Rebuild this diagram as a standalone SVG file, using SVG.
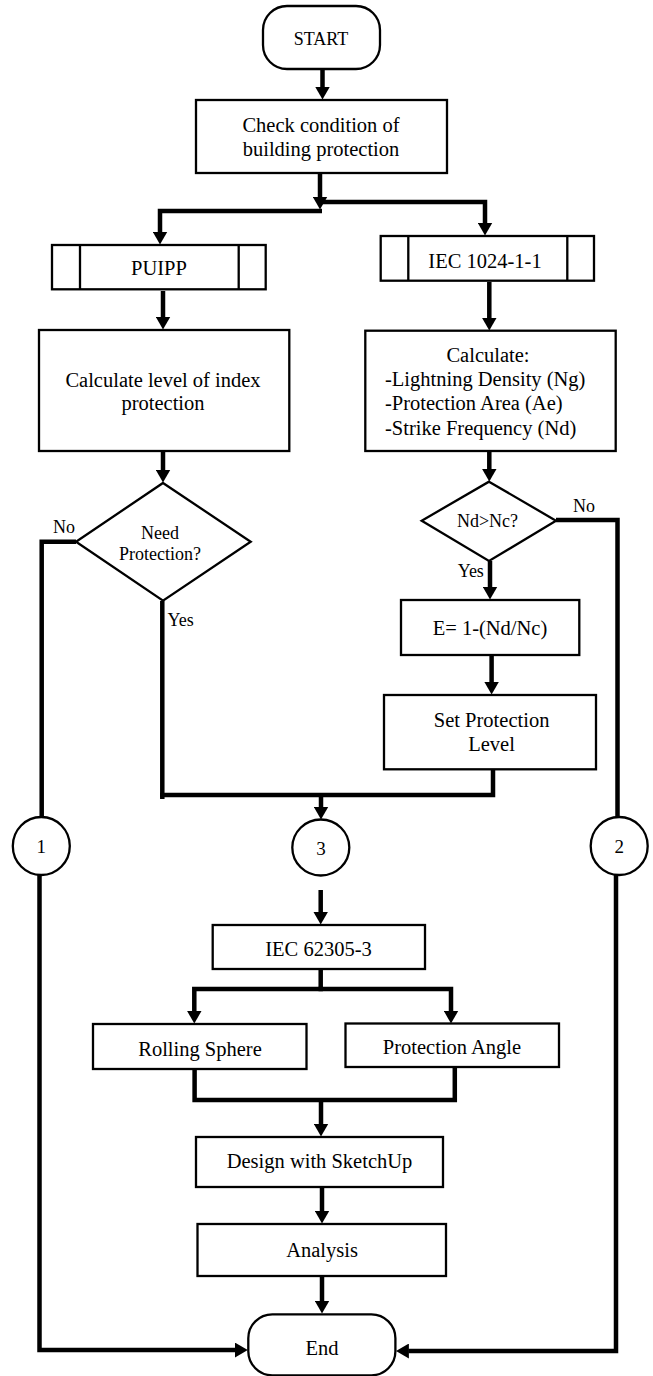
<svg xmlns="http://www.w3.org/2000/svg" width="653" height="1376" viewBox="0 0 653 1376">
<style>
.fc-box{fill:#fff;stroke:#000;stroke-width:2.3}
.fc-thin{fill:none;stroke:#000;stroke-width:2.3}
.fc-conn{fill:none;stroke:#000;stroke-width:4.5}
.fc-main{font-family:'Liberation Serif',serif;font-size:20.5px;text-anchor:middle}
.fc-left{font-family:'Liberation Serif',serif;font-size:20.5px;text-anchor:start}
.fc-lab{font-family:'Liberation Serif',serif;font-size:18px;text-anchor:middle}
.fc-labl{font-family:'Liberation Serif',serif;font-size:18px;text-anchor:start}
.fc-num{font-family:'Liberation Serif',serif;font-size:19px;text-anchor:middle}
</style>
<defs>
<marker id="ah" viewBox="0 -7.5 13 15" refX="0.5" refY="0" markerWidth="13" markerHeight="15" markerUnits="userSpaceOnUse" orient="auto">
<path d="M0,-7.5 L13,0 L0,7.5 Z" fill="#000"/>
</marker>
</defs>
<rect width="653" height="1376" fill="#fff"/>
<g id="connectors">
<path class="fc-conn" d="M322.5,69 V87" marker-end="url(#ah)"/>
<path class="fc-conn" d="M320,173 V197" marker-end="url(#ah)"/>
<path class="fc-conn" d="M322,211 H160 V232" marker-end="url(#ah)"/>
<path class="fc-conn" d="M318,202 H485 V223" marker-end="url(#ah)"/>
<path class="fc-conn" d="M163,291 V317" marker-end="url(#ah)"/>
<path class="fc-conn" d="M489.3,282 V318" marker-end="url(#ah)"/>
<path class="fc-conn" d="M163,451 V470" marker-end="url(#ah)"/>
<path class="fc-conn" d="M489.3,451 V469" marker-end="url(#ah)"/>
<path class="fc-conn" d="M162.3,601 V799"/>
<path class="fc-conn" d="M160,795 H493 V769"/>
<path class="fc-conn" d="M321,795 V807" marker-end="url(#ah)"/>
<path class="fc-conn" d="M76,541.7 H41.7 V817.3"/>
<path class="fc-conn" d="M39.5,875 V1350 H235.3" marker-end="url(#ah)"/>
<path class="fc-conn" d="M556,520 H617.5 V817"/>
<path class="fc-conn" d="M616,875 V1351 H408.4" marker-end="url(#ah)"/>
<path class="fc-conn" d="M490,561 V587" marker-end="url(#ah)"/>
<path class="fc-conn" d="M491.6,655 V682" marker-end="url(#ah)"/>
<path class="fc-conn" d="M320.7,890 V912" marker-end="url(#ah)"/>
<path class="fc-conn" d="M320.7,969 V989"/>
<path class="fc-conn" d="M322.9,989 H194.3 V1011" marker-end="url(#ah)"/>
<path class="fc-conn" d="M318.5,989 H451 V1011" marker-end="url(#ah)"/>
<path class="fc-conn" d="M194.6,1069 V1100 H454.8 V1067"/>
<path class="fc-conn" d="M321,1100 V1124" marker-end="url(#ah)"/>
<path class="fc-conn" d="M322,1187 V1211" marker-end="url(#ah)"/>
<path class="fc-conn" d="M322,1276 V1301" marker-end="url(#ah)"/>
</g>
<g id="start">
<rect class="fc-box" x="263" y="6" width="117" height="63" rx="24" ry="24"/>
<text class="fc-lab" style="font-family:'Liberation Serif',serif" x="321" y="45">START</text>
</g>
<g id="check">
<rect class="fc-box" x="196" y="100" width="251" height="73"/>
<text class="fc-main" style="font-family:'Liberation Serif',serif" x="321" y="131.7">Check condition of</text>
<text class="fc-main" style="font-family:'Liberation Serif',serif" x="321" y="155.7">building protection</text>
</g>
<g id="puipp">
<rect class="fc-box" x="52" y="245" width="213.7" height="44.3"/>
<path class="fc-thin" d="M80,245 V289.3 M238.7,245 V289.3"/>
<text class="fc-main" style="font-family:'Liberation Serif',serif" x="159" y="275">PUIPP</text>
</g>
<g id="iec1024">
<rect class="fc-box" x="380.7" y="236" width="213.3" height="44.7"/>
<path class="fc-thin" d="M408.3,236 V280.7 M567.3,236 V280.7"/>
<text class="fc-main" style="font-family:'Liberation Serif',serif" x="485" y="267.7">IEC 1024-1-1</text>
</g>
<g id="calc-left">
<rect class="fc-box" x="39" y="330" width="250.3" height="121"/>
<text class="fc-main" style="font-family:'Liberation Serif',serif" x="163" y="386.7">Calculate level of index</text>
<text class="fc-main" style="font-family:'Liberation Serif',serif" x="163" y="410">protection</text>
</g>
<g id="calc-right">
<rect class="fc-box" x="365.3" y="330.7" width="250.4" height="120.3"/>
<text class="fc-main" style="font-family:'Liberation Serif',serif" x="488" y="361.7">Calculate:</text>
<text class="fc-left" style="font-family:'Liberation Serif',serif" x="385" y="386">-Lightning Density (Ng)</text>
<text class="fc-left" style="font-family:'Liberation Serif',serif" x="385" y="410">-Protection Area (Ae)</text>
<text class="fc-left" style="font-family:'Liberation Serif',serif" x="385" y="435">-Strike Frequency (Nd)</text>
</g>
<g id="need-protection">
<polygon class="fc-box" points="163,483 250.7,541.7 163,600.7 76,541.7"/>
<text class="fc-lab" style="font-family:'Liberation Serif',serif" x="160" y="539">Need</text>
<text class="fc-lab" style="font-family:'Liberation Serif',serif" x="160" y="560">Protection?</text>
<text class="fc-lab" style="font-family:'Liberation Serif',serif" x="64" y="532.7">No</text>
<text class="fc-labl" style="font-family:'Liberation Serif',serif" x="167.5" y="625.7">Yes</text>
</g>
<g id="nd-nc">
<polygon class="fc-box" points="489,481.7 556,520.7 489,561 421.7,520.7"/>
<text class="fc-lab" style="font-family:'Liberation Serif',serif" x="487.5" y="527.3">Nd&gt;Nc?</text>
<text class="fc-lab" style="font-family:'Liberation Serif',serif" x="584" y="511.7">No</text>
<text class="fc-labl" style="font-family:'Liberation Serif',serif" x="457.7" y="577.3">Yes</text>
</g>
<g id="e-box">
<rect class="fc-box" x="401" y="600" width="178.3" height="55"/>
<text class="fc-main" style="font-family:'Liberation Serif',serif" x="490" y="635">E= 1-(Nd/Nc)</text>
</g>
<g id="set-level">
<rect class="fc-box" x="384" y="695" width="212" height="74.3"/>
<text class="fc-main" style="font-family:'Liberation Serif',serif" x="491.6" y="726.7">Set Protection</text>
<text class="fc-main" style="font-family:'Liberation Serif',serif" x="491.6" y="751">Level</text>
</g>
<g id="conn-1">
<ellipse class="fc-box" cx="41.3" cy="846" rx="28.5" ry="29"/>
<text class="fc-num" style="font-family:'Liberation Serif',serif" x="41.3" y="852.7">1</text>
</g>
<g id="conn-3">
<ellipse class="fc-box" cx="320.8" cy="847.5" rx="28.5" ry="28"/>
<text class="fc-num" style="font-family:'Liberation Serif',serif" x="321" y="855">3</text>
</g>
<g id="conn-2">
<ellipse class="fc-box" cx="619.2" cy="846" rx="28.5" ry="29"/>
<text class="fc-num" style="font-family:'Liberation Serif',serif" x="619.2" y="852.7">2</text>
</g>
<g id="iec62305">
<rect class="fc-box" x="212.7" y="925" width="212.3" height="44"/>
<text class="fc-main" style="font-family:'Liberation Serif',serif" x="318.5" y="956">IEC 62305-3</text>
</g>
<g id="rolling">
<rect class="fc-box" x="93" y="1024" width="213.5" height="45"/>
<text class="fc-main" style="font-family:'Liberation Serif',serif" x="200" y="1055.7">Rolling Sphere</text>
</g>
<g id="angle">
<rect class="fc-box" x="345.5" y="1023.5" width="213.5" height="43.5"/>
<text class="fc-main" style="font-family:'Liberation Serif',serif" x="452" y="1054">Protection Angle</text>
</g>
<g id="design">
<rect class="fc-box" x="196" y="1137" width="247" height="50"/>
<text class="fc-main" style="font-family:'Liberation Serif',serif" x="319.5" y="1168.3">Design with SketchUp</text>
</g>
<g id="analysis">
<rect class="fc-box" x="197.5" y="1224" width="248.5" height="52"/>
<text class="fc-main" style="font-family:'Liberation Serif',serif" x="322" y="1256.7">Analysis</text>
</g>
<g id="end">
<rect class="fc-box" x="248.3" y="1314.3" width="147.1" height="61" rx="24" ry="24"/>
<text class="fc-main" style="font-family:'Liberation Serif',serif" x="322" y="1355">End</text>
</g>
</svg>
